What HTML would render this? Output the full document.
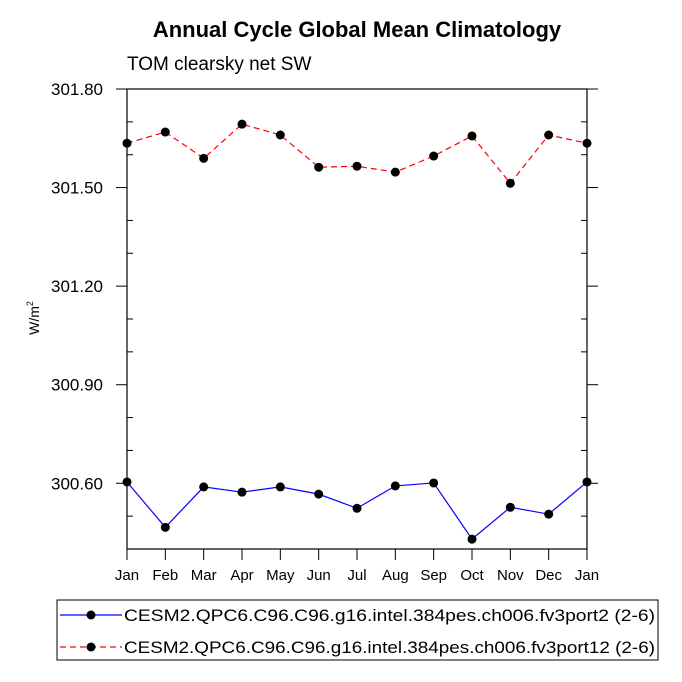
<!DOCTYPE html>
<html><head><meta charset="utf-8"><style>body{margin:0;background:#fff}svg{display:block;font-family:"Liberation Sans",sans-serif}</style></head>
<body>
<svg id="c" width="682" height="682" viewBox="0 0 682 682"></svg>
<script>
const months=["Jan","Feb","Mar","Apr","May","Jun","Jul","Aug","Sep","Oct","Nov","Dec","Jan"];
const seriesBlue=[300.604,300.466,300.589,300.573,300.589,300.567,300.524,300.592,300.601,300.430,300.527,300.506,300.604];
const seriesRed=[301.635,301.669,301.589,301.693,301.660,301.562,301.565,301.547,301.596,301.657,301.513,301.660,301.635];
const yTicks=[300.60,300.90,301.20,301.50,301.80];
const yMinor=[300.4,300.5,300.7,300.8,301.0,301.1,301.3,301.4,301.6,301.7];
const L=127,R=587,T=89,B=549,ymin=300.40,ymax=301.80;
const X=i=>L+(R-L)*i/(months.length-1);
const Y=v=>B-(v-ymin)/(ymax-ymin)*(B-T);
const svg=document.getElementById('c');const NS='http://www.w3.org/2000/svg';
function mk(t,a,p){const e=document.createElementNS(NS,t);for(const k in a)e.setAttribute(k,a[k]);(p||svg).appendChild(e);return e;}
let e;
e=mk('text',{x:357,y:37,'text-anchor':'middle','font-size':22,'font-weight':'bold'});e.textContent='Annual Cycle Global Mean Climatology';


e=mk('text',{x:127,y:70,'font-size':19});e.textContent='TOM clearsky net SW';


e=mk('rect',{x:L,y:T,width:R-L,height:B-T,fill:'none',stroke:'#000','stroke-width':1.2});


yTicks.forEach(v=>{const y=Y(v);
 mk('line',{x1:L-11,x2:L,y1:y,y2:y,stroke:'#000'});mk('line',{x1:R,x2:R+11,y1:y,y2:y,stroke:'#000'});
 e=mk('text',{x:L-24,y:y+6,'text-anchor':'end','font-size':17});e.textContent=v.toFixed(2);
 
 });
yMinor.forEach(v=>{const y=Y(v);mk('line',{x1:L,x2:L+6,y1:y,y2:y,stroke:'#000'});mk('line',{x1:R-6,x2:R,y1:y,y2:y,stroke:'#000'});});
months.forEach((m,i)=>{const x=X(i);mk('line',{x1:x,x2:x,y1:B,y2:B+11,stroke:'#000'});
 e=mk('text',{x:x,y:B+31,'text-anchor':'middle','font-size':15});e.textContent=m;
 
 });
e=mk('text',{x:0,y:0,'font-size':14,transform:'translate(39,318) rotate(-90)','text-anchor':'middle'});e.innerHTML='W/m<tspan dy="-6" font-size="9">2</tspan>';


function series(vals,color,dash,name){
 e=mk('polyline',{points:vals.map((v,i)=>X(i)+','+Y(v)).join(' '),fill:'none',stroke:color,'stroke-width':1.2,'stroke-dasharray':dash});
 
 
 vals.forEach((v,i)=>{e=mk('circle',{cx:X(i),cy:Y(v),r:4.5,fill:'#000'});
 
 });}
series(seriesBlue,'#0000ff','none','fv3port2');
series(seriesRed,'#ff0000','6,4','fv3port12');
e=mk('rect',{x:57,y:600,width:601,height:60,fill:'none',stroke:'#000'});


[['#0000ff','none','CESM2.QPC6.C96.C96.g16.intel.384pes.ch006.fv3port2 (2-6)',615],['#ff0000','6,4','CESM2.QPC6.C96.C96.g16.intel.384pes.ch006.fv3port12 (2-6)',647]].forEach(([c,d,t,y])=>{
 mk('line',{x1:60,x2:122,y1:y,y2:y,stroke:c,'stroke-dasharray':d,'stroke-width':1.2});mk('circle',{cx:91,cy:y,r:4.5,fill:'#000'});
 e=mk('text',{x:124,y:y+6,'font-size':17,textLength:531,lengthAdjust:'spacingAndGlyphs'});e.textContent=t;
 
 });
</script>
</body></html>
